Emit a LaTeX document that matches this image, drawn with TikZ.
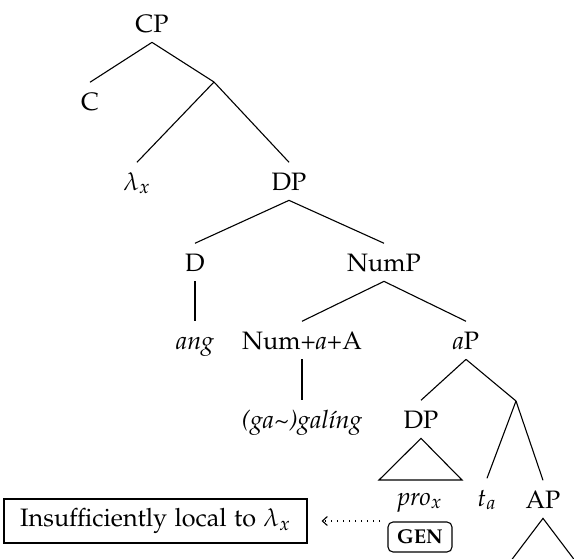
\documentclass[tikz,border=0pt]{standalone}
\usepackage[T1]{fontenc}
\usepackage[sc]{mathpazo}
\usetikzlibrary{arrows.meta}
\begin{document}
\begin{tikzpicture}[x=0.5pt,y=-0.5pt,line width=0.55pt,
  font=\fontsize{12.6}{15}\selectfont,
  lbl/.style={anchor=base, text height=8.7pt, text depth=0pt, inner xsep=1pt, inner ysep=4.9pt},
  gen/.style={draw, rounded corners=2.5pt, minimum width=32pt, minimum height=15pt, inner sep=0pt,
    font=\fontsize{10}{11}\selectfont\bfseries},
  note/.style={draw, minimum width=151.5pt, minimum height=22pt, inner sep=0pt},
  dotarrow/.style={dash pattern=on 0.5pt off 2.5pt, -{Straight Barb[length=2.5pt,width=4.5pt]}, shorten >=7pt}]
\useasboundingbox (0,0) rectangle (574,558);
\clip (0,0) rectangle (574,558);
% nodes
\node[lbl] (CP) at (152,32) {CP};
\node[lbl] (C) at (90,110) {C};
\coordinate (X1) at (214,82);
\node[lbl] (lam) at (137,190) {$\lambda_x$};
\node[lbl] (DP1) at (289,190) {DP};
\node[lbl] (D) at (195,271) {D};
\node[lbl] (NumP) at (384,271) {NumP};
\node[lbl] (ang) at (195,349) {\textit{ang}};
\node[lbl] (Num) at (302,349) {Num+\textit{a}+A};
\node[lbl] (aP) at (466,349) {\textit{a}P};
\node[lbl] (gal) at (302,428) {\textit{(ga\textasciitilde)gal\'{\i}ng}};
\node[lbl] (DP2) at (421,428) {DP};
\coordinate (X2) at (516,401);
\node[lbl] (pro) at (420,505) {\textit{pro}$_x$};
\node[lbl] (ta) at (487,506) {$t_a$};
\node[lbl] (AP) at (543,508) {AP};
\node[gen] (gen) at (420,537) {GEN};
\node[note] (ins) at (155.5,521) {Insufficiently local to $\lambda_x$};
\coordinate (tl) at (379,480);
\coordinate (tr) at (462,480);
\coordinate (al) at (510,562);
\coordinate (ar) at (576,562);
\coordinate (as) at (380,521);
% edges
\draw (CP.south) -- (C.north);
\draw (CP.south) -- (X1);
\draw (X1) -- (lam.north);
\draw (X1) -- (DP1.north);
\draw (DP1.south) -- (D.north);
\draw (DP1.south) -- (NumP.north);
\draw (D.south) -- (ang.north);
\draw (NumP.south) -- (Num.north);
\draw (NumP.south) -- (aP.north);
\draw (Num.south) -- (gal.north);
\draw (aP.south) -- (DP2.north);
\draw (aP.south) -- (X2);
\draw (X2) -- (ta.north);
\draw (X2) -- (AP.north);
\draw (DP2.south) -- (tl) -- (tr) -- cycle;
\draw (AP.south) -- (al) -- (ar) -- cycle;
\draw[dotarrow] (as) -- (ins.east);
\end{tikzpicture}
\end{document}
